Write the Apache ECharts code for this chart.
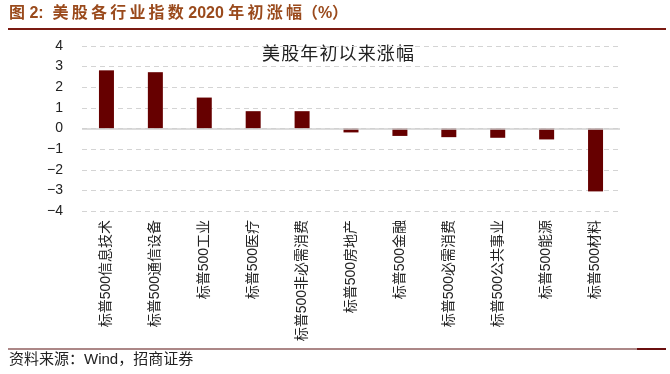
<!DOCTYPE html>
<html><head><meta charset="utf-8">
<script src="https://cdn.jsdelivr.net/npm/echarts@6/dist/echarts.min.js"></script>
<style>html,body{margin:0;padding:0;background:#fff}#c{width:670px;height:374px}</style>
</head><body><div id="c"></div>
<script>
const categories = ['标普500信息技术','标普500通信设备','标普500工业','标普500医疗','标普500非必需消费','标普500房地产','标普500金融','标普500必需消费','标普500公共事业','标普500能源','标普500材料'];
const values = [2.82, 2.73, 1.50, 0.84, 0.84, -0.19, -0.36, -0.42, -0.45, -0.53, -3.05];
const yTicks = [-4, -3, -2, -1, 0, 1, 2, 3, 4];
const titleText = '图 2:  美股各行业指数 2020 年初涨幅（%）';
const annotText = '美股年初以来涨幅';
const sourceText = '资料来源：Wind，招商证券';

// widen text slightly by putting a thin space between adjacent CJK characters (display only)
const isCJK = c => /[\u4e00-\u9fff]/.test(c);
const spaced = (s, sp) => {
  const a = Array.from(s); let out = '';
  for (let i = 0; i < a.length; i++) {
    out += a[i];
    if (i < a.length - 1 && isCJK(a[i]) && isCJK(a[i + 1])) out += sp;
  }
  return out;
};

const chart = echarts.init(document.getElementById('c'), null, {renderer:'canvas'});
const cjk = '"Liberation Sans","Noto Sans CJK SC",sans-serif';
chart.setOption({
  animation: false,
  backgroundColor: '#fff',
  grid: {left: 82, right: 50, top: 46, bottom: 163, containLabel: false},
  xAxis: {
    type: 'category', data: categories,
    axisLine: {show: false, onZero: false}, axisTick: {show: false},
    axisLabel: {rotate: 90, fontSize: 14, color: '#222', fontFamily: cjk, margin: 9, interval: 0}
  },
  yAxis: {
    type: 'value', min: yTicks[0], max: yTicks[yTicks.length-1], interval: 1,
    axisLine: {show: false}, axisTick: {show: false},
    axisLabel: {fontSize: 14, color: '#222', fontFamily: '"Liberation Sans",Arial,sans-serif', margin: 19,
      formatter: v => (v < 0 ? '\u2212' + Math.abs(v) : String(v))},
    splitLine: {lineStyle: {color: '#d4d4d4', type: [5, 4], width: 1}}
  },
  series: [{
    type: 'bar', data: values, barWidth: 15,
    itemStyle: {color: '#660000'},
    markLine: {silent: true, symbol: 'none', label: {show: false},
      lineStyle: {color: '#d0d0d0', type: 'solid', width: 1.5}, data: [{yAxis: 0}]}
  }],
  graphic: [
    {type: 'text', left: 9, top: 6, style: {text: spaced(titleText, '\u2009'), fontSize: 16, fontWeight: 'bold', fill: '#9a4a1c', fontFamily: cjk}},
    {type: 'rect', shape: {x: 8, y: 28, width: 658, height: 2}, style: {fill: '#7a1a12'}},
    {type: 'text', x: 338, y: 53, style: {text: spaced(annotText, '\u200A'), fontSize: 18, fill: '#222', align: 'center', verticalAlign: 'middle', fontFamily: '"Noto Sans CJK SC",sans-serif'}},
    {type: 'rect', shape: {x: 8, y: 348.5, width: 630, height: 1}, style: {fill: '#5a1010'}},
    {type: 'rect', shape: {x: 637, y: 348, width: 29, height: 2}, style: {fill: '#6a0f0f'}},
    {type: 'text', left: 9, top: 352, style: {text: sourceText, fontSize: 15, fill: '#222', fontFamily: cjk}}
  ]
});
</script></body></html>
